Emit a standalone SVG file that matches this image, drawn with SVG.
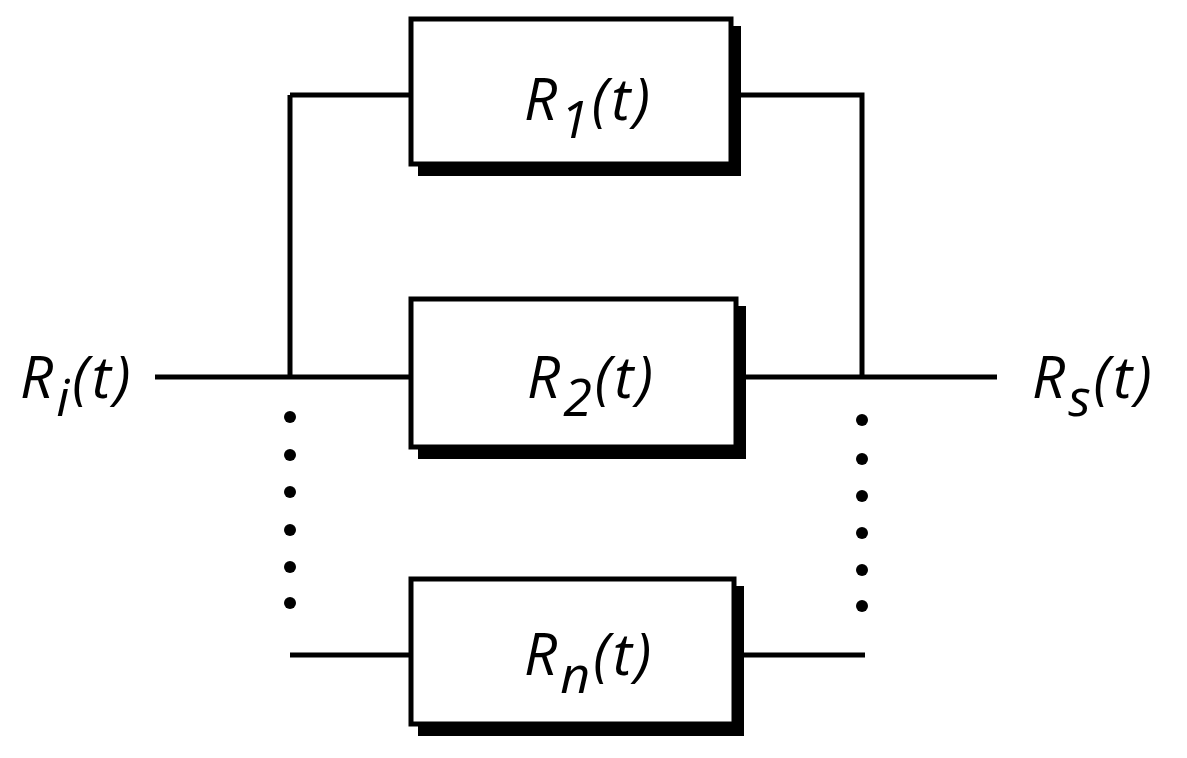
<svg xmlns="http://www.w3.org/2000/svg" width="1187" height="758" viewBox="0 0 1187 758">
<style>
.box{fill:#fff;stroke:#000;stroke-width:5}
.sh{fill:#000}
.w{stroke:#000;stroke-width:5;fill:none}
text{font-family:"Open Sans","DejaVu Sans",sans-serif;font-style:italic;font-size:58px;fill:#000;letter-spacing:3px}
.sub{font-size:52px}
</style>
<rect width="1187" height="758" fill="#fff"/>
<g id="connectors">
<path class="w" d="M290 95H410M290 95V377M733 95H862V377M155 377H410M737 377H997M290 655H410M740 655H865"/>
<g fill="#000">
<circle cx="290" cy="417" r="6"/><circle cx="290" cy="455" r="6"/><circle cx="290" cy="492" r="6"/><circle cx="290" cy="530" r="6"/><circle cx="290" cy="567" r="6"/><circle cx="290" cy="603" r="6"/>
<circle cx="862" cy="420" r="6"/><circle cx="862" cy="459" r="6"/><circle cx="862" cy="496" r="6"/><circle cx="862" cy="533" r="6"/><circle cx="862" cy="570" r="6"/><circle cx="862" cy="606" r="6"/>
</g>
</g>
<g id="n1"><rect class="sh" x="418" y="26" width="323" height="150"/><rect class="box" x="411" y="19" width="320" height="145"/>
<text x="524" y="120">R<tspan class="sub" dy="18">1</tspan><tspan dy="-18">(t)</tspan></text></g>
<g id="n2"><rect class="sh" x="418" y="306" width="328" height="153"/><rect class="box" x="411" y="299" width="325" height="148"/>
<text x="527" y="398">R<tspan class="sub" dy="18">2</tspan><tspan dy="-18">(t)</tspan></text></g>
<g id="nn"><rect class="sh" x="418" y="586" width="326" height="150"/><rect class="box" x="411" y="579" width="323" height="145"/>
<text x="524" y="675">R<tspan class="sub" dy="18">n</tspan><tspan dy="-18">(t)</tspan></text></g>
<g id="in"><text x="20" y="398">R<tspan class="sub" dy="18">i</tspan><tspan dy="-18">(t)</tspan></text></g>
<g id="out"><text x="1032" y="398">R<tspan class="sub" dy="18">s</tspan><tspan dy="-18">(t)</tspan></text></g>
</svg>
